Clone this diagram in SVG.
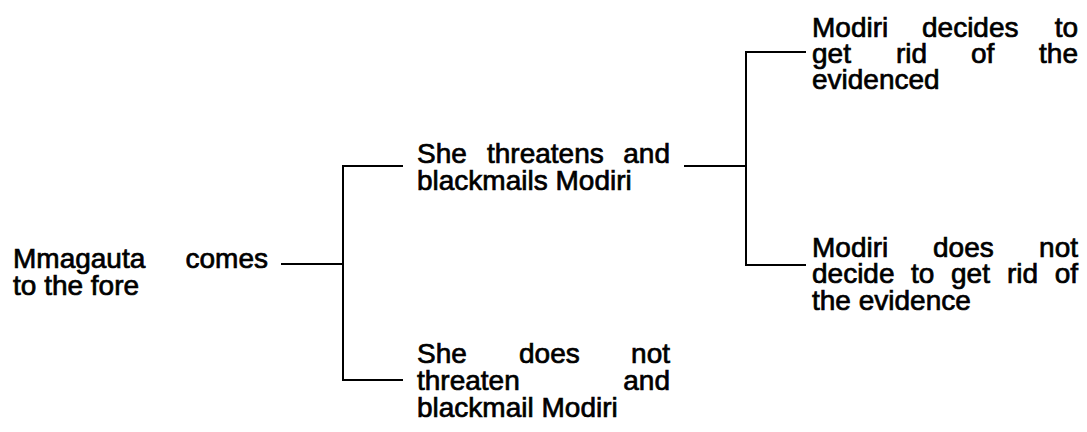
<svg xmlns="http://www.w3.org/2000/svg" width="1087" height="432" viewBox="0 0 1087 432">
<style>
text{font-family:"Liberation Sans",Arial,sans-serif;font-size:28px;fill:#000;stroke:#000;stroke-width:0.7}
.e{text-anchor:end}
.c line{stroke:#000;stroke-width:2;stroke-linecap:square}
</style>
<rect width="1087" height="432" fill="#fff"/>
<g id="connectors" class="c">
<line x1="282" y1="264" x2="343" y2="264"/>
<line x1="343" y1="166" x2="343" y2="380"/>
<line x1="343" y1="166" x2="402" y2="166"/>
<line x1="343" y1="380" x2="402" y2="380"/>
<line x1="685" y1="166" x2="746" y2="166"/>
<line x1="746" y1="52" x2="746" y2="265"/>
<line x1="746" y1="52" x2="805" y2="52"/>
<line x1="746" y1="265" x2="805" y2="265"/>
</g>
<g id="root">
<text x="13" y="268">Mmagauta</text>
<text class="e" x="268" y="268">comes</text>
<text x="13" y="295">to the fore</text>
</g>
<g id="threatens">
<text x="417" y="163">She</text>
<text x="487" y="163">threatens</text>
<text class="e" x="670" y="163">and</text>
<text x="417" y="190">blackmails Modiri</text>
</g>
<g id="not-threaten">
<text x="417" y="363">She</text>
<text x="519" y="363">does</text>
<text class="e" x="670" y="363">not</text>
<text x="417" y="390">threaten</text>
<text class="e" x="670" y="390">and</text>
<text x="417" y="417">blackmail Modiri</text>
</g>
<g id="decides">
<text x="812" y="37">Modiri</text>
<text x="922" y="37">decides</text>
<text class="e" x="1078" y="37">to</text>
<text x="812" y="63">get</text>
<text x="896" y="63">rid</text>
<text x="971" y="63">of</text>
<text class="e" x="1078" y="63">the</text>
<text x="812" y="89">evidenced</text>
</g>
<g id="not-decide">
<text x="812" y="257">Modiri</text>
<text x="933" y="257">does</text>
<text class="e" x="1078" y="257">not</text>
<text x="812" y="283">decide</text>
<text x="911" y="283">to</text>
<text x="951" y="283">get</text>
<text x="1007" y="283">rid</text>
<text class="e" x="1078" y="283">of</text>
<text x="812" y="310">the evidence</text>
</g>
</svg>
